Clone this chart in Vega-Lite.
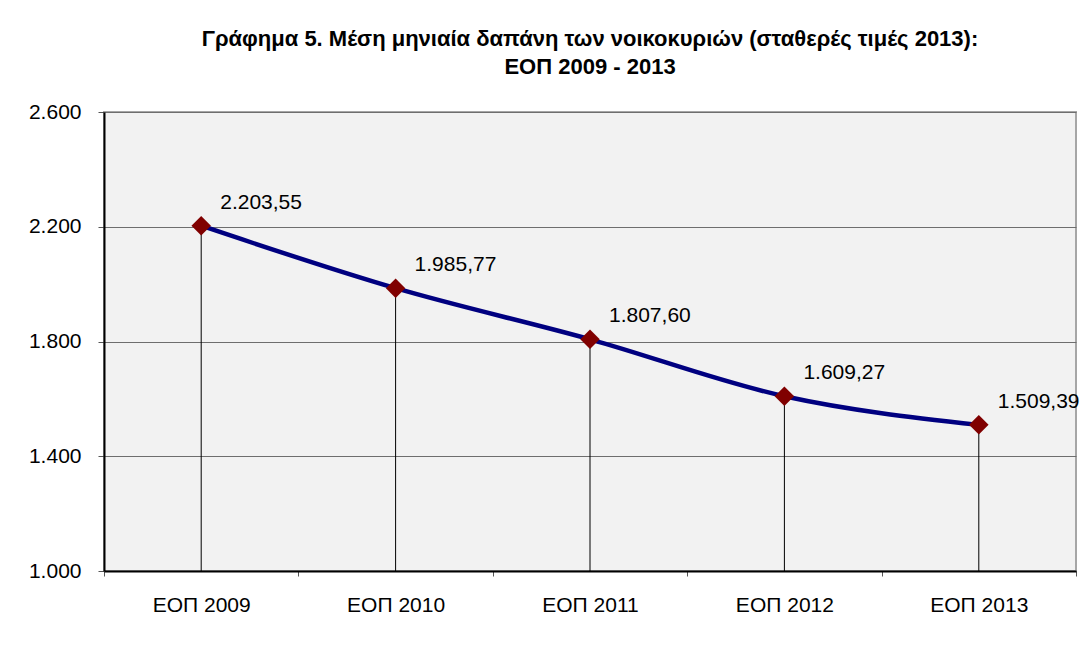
{
  "$schema": "https://vega.github.io/schema/vega-lite/v6.json",
  "width": 972,
  "height": 459,
  "autosize": {"type": "none"},
  "padding": {"left": 104, "top": 112, "right": 16, "bottom": 91},
  "background": "white",
  "config": {
    "font": "Liberation Sans",
    "locale": {"number": {"decimal": ",", "thousands": ".", "grouping": [3], "currency": ["", " €"]}},
    "view": {"fill": "#f2f2f2", "stroke": "#a6a6a6", "strokeWidth": 2}
  },
  "title": {
    "text": ["Γράφημα 5. Μέση μηνιαία δαπάνη των νοικοκυριών (σταθερές τιμές 2013):", "ΕΟΠ 2009 - 2013"],
    "anchor": "middle",
    "frame": "group",
    "font": "Liberation Sans",
    "fontSize": 22,
    "fontWeight": "bold",
    "color": "black",
    "lineHeight": 28,
    "offset": 22
  },
  "data": {
    "values": [
      {"year": "ΕΟΠ 2009", "value": 2203.55},
      {"year": "ΕΟΠ 2010", "value": 1985.77},
      {"year": "ΕΟΠ 2011", "value": 1807.60},
      {"year": "ΕΟΠ 2012", "value": 1609.27},
      {"year": "ΕΟΠ 2013", "value": 1509.39}
    ]
  },
  "encoding": {
    "x": {
      "field": "year",
      "type": "nominal",
      "sort": null,
      "bandPosition": 0.5,
      "scale": {"type": "band", "paddingInner": 0, "paddingOuter": 0},
      "axis": {
        "title": null,
        "labelAngle": 0,
        "labelFontSize": 21,
        "labelColor": "black",
        "labelPadding": 18,
        "tickBand": "extent",
        "tickSize": 5,
        "tickColor": "#555555",
        "domainColor": "black",
        "domainWidth": 2,
        "grid": false
      }
    },
    "y": {
      "field": "value",
      "type": "quantitative",
      "scale": {"domain": [1000, 2600], "nice": false, "zero": false},
      "axis": {
        "title": null,
        "values": [1000, 1400, 1800, 2200, 2600],
        "format": ",.0f",
        "labelFontSize": 21,
        "labelColor": "black",
        "labelPadding": 17,
        "tickSize": 6,
        "tickColor": "#555555",
        "domainColor": "black",
        "domainWidth": 2,
        "grid": true,
        "gridColor": "#6e6e6e",
        "gridWidth": 1
      }
    }
  },
  "layer": [
    {
      "mark": {"type": "rule", "color": "black", "strokeWidth": 1},
      "encoding": {"y2": {"datum": 1000}}
    },
    {
      "mark": {"type": "line", "color": "#000080", "strokeWidth": 4.5, "interpolate": "monotone"}
    },
    {
      "mark": {"type": "point", "shape": "diamond", "filled": true, "color": "#800000", "opacity": 1, "size": 380}
    },
    {
      "mark": {"type": "text", "align": "left", "baseline": "middle", "dx": 19, "dy": -23, "fontSize": 21, "color": "black"},
      "encoding": {"text": {"field": "value", "type": "quantitative", "format": ",.2f"}}
    }
  ]
}
